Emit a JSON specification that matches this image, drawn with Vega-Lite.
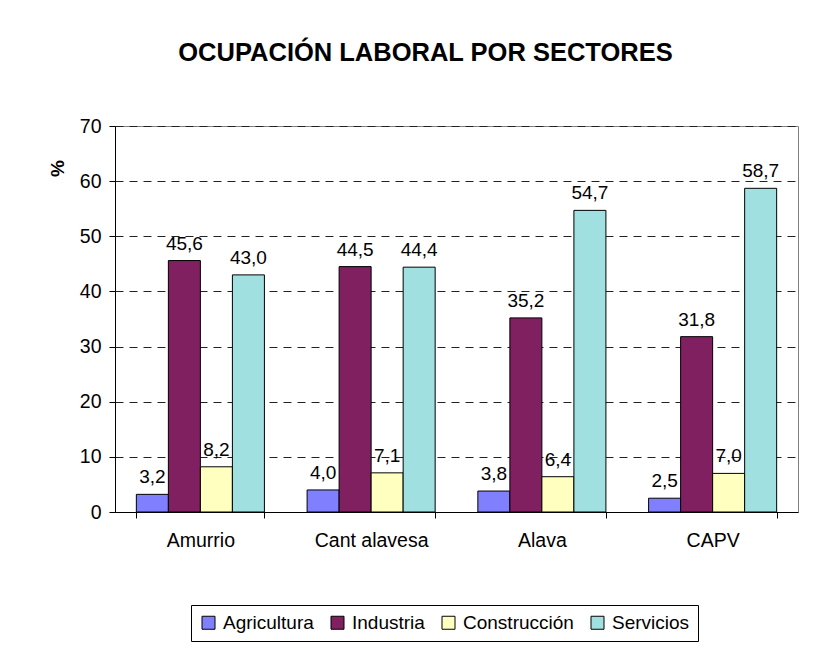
{
  "$schema": "https://vega.github.io/schema/vega-lite/v6.json",
  "width": 683,
  "height": 386,
  "autosize": {"type": "none"},
  "padding": {"left": 115, "top": 126, "right": 34, "bottom": 153},
  "background": "white",
  "title": {
    "text": "OCUPACIÓN LABORAL POR SECTORES",
    "font": "Liberation Sans",
    "fontSize": 25.5,
    "fontWeight": "bold",
    "color": "black",
    "anchor": "middle",
    "dx": -31,
    "offset": 50
  },
  "data": {
    "values": [
      {"zona": "Amurrio", "sector": "Agricultura", "valor": 3.2},
      {"zona": "Amurrio", "sector": "Industria", "valor": 45.6},
      {"zona": "Amurrio", "sector": "Construcción", "valor": 8.2},
      {"zona": "Amurrio", "sector": "Servicios", "valor": 43.0},
      {"zona": "Cant alavesa", "sector": "Agricultura", "valor": 4.0},
      {"zona": "Cant alavesa", "sector": "Industria", "valor": 44.5},
      {"zona": "Cant alavesa", "sector": "Construcción", "valor": 7.1},
      {"zona": "Cant alavesa", "sector": "Servicios", "valor": 44.4},
      {"zona": "Alava", "sector": "Agricultura", "valor": 3.8},
      {"zona": "Alava", "sector": "Industria", "valor": 35.2},
      {"zona": "Alava", "sector": "Construcción", "valor": 6.4},
      {"zona": "Alava", "sector": "Servicios", "valor": 54.7},
      {"zona": "CAPV", "sector": "Agricultura", "valor": 2.5},
      {"zona": "CAPV", "sector": "Industria", "valor": 31.8},
      {"zona": "CAPV", "sector": "Construcción", "valor": 7.0},
      {"zona": "CAPV", "sector": "Servicios", "valor": 58.7}
    ]
  },
  "encoding": {
    "x": {
      "field": "zona",
      "type": "nominal",
      "sort": ["Amurrio", "Cant alavesa", "Alava", "CAPV"],
      "scale": {"paddingInner": 0.25, "paddingOuter": 0.125},
      "axis": {
        "title": null,
        "labelAngle": 0,
        "tickBand": "extent",
        "tickSize": 6,
        "tickColor": "black",
        "domainColor": "black",
        "labelPadding": 13,
        "labelFontSize": 19.5,
        "labelFont": "Liberation Sans",
        "labelColor": "black",
        "grid": false
      }
    },
    "xOffset": {
      "field": "sector",
      "type": "nominal",
      "sort": ["Agricultura", "Industria", "Construcción", "Servicios"],
      "scale": {"paddingInner": 0, "paddingOuter": 0}
    },
    "y": {
      "field": "valor",
      "type": "quantitative",
      "scale": {"domain": [0, 70], "nice": false},
      "axis": {
        "values": [0, 10, 20, 30, 40, 50, 60, 70],
        "title": "%",
        "titleAngle": -90,
        "titleX": -58,
        "titleY": 42,
        "titleAlign": "center",
        "titleBaseline": "middle",
        "titleFont": "Liberation Sans",
        "titleFontSize": 19,
        "titleFontWeight": "bold",
        "titleColor": "black",
        "labelFontSize": 19.5,
        "labelFont": "Liberation Sans",
        "labelColor": "black",
        "labelPadding": 8,
        "tickSize": 6,
        "tickColor": "black",
        "domainColor": "black",
        "grid": true,
        "gridColor": "#222222",
        "gridDash": [8, 6],
        "gridWidth": 1
      }
    }
  },
  "layer": [
    {
      "mark": {"type": "bar", "stroke": "black", "strokeWidth": 1},
      "encoding": {
        "color": {
          "field": "sector",
          "type": "nominal",
          "sort": ["Agricultura", "Industria", "Construcción", "Servicios"],
          "scale": {
            "domain": ["Agricultura", "Industria", "Construcción", "Servicios"],
            "range": ["#8080FF", "#802060", "#FFFFC0", "#A0E0E0"]
          },
          "legend": {
            "title": null,
            "orient": "none",
            "legendX": 76,
            "legendY": 479,
            "direction": "horizontal",
            "strokeColor": "black",
            "padding": 8,
            "symbolType": "square",
            "symbolSize": 169,
            "symbolStrokeColor": "black",
            "symbolStrokeWidth": 1,
            "symbolOpacity": 1,
            "labelFontSize": 19,
            "labelFont": "Liberation Sans",
            "labelColor": "black",
            "labelOffset": 5,
            "columnPadding": 14
          }
        }
      }
    },
    {
      "mark": {
        "type": "text",
        "baseline": "alphabetic",
        "dy": -11,
        "font": "Liberation Sans",
        "fontSize": 19,
        "color": "black"
      },
      "encoding": {
        "text": {"field": "valor", "type": "quantitative", "format": ".1f"}
      }
    }
  ],
  "config": {
    "locale": {
      "number": {"decimal": ",", "thousands": ".", "grouping": [3], "currency": ["", " €"]}
    },
    "view": {"stroke": "#808080", "strokeWidth": 1},
    "axis": {"domainWidth": 1, "tickWidth": 1}
  }
}
